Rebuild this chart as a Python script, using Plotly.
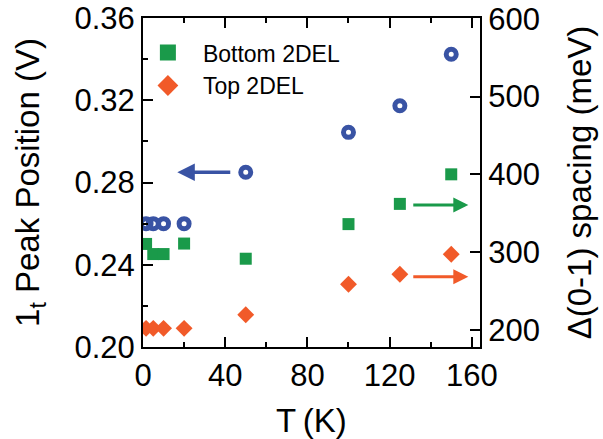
import plotly.graph_objects as go

# Temperature series (K)
temperature = [1.5, 5, 10, 20, 50, 100, 125, 150]
# 1_t peak position (V), left axis
peak_position = [0.260, 0.260, 0.260, 0.260, 0.285, 0.3044, 0.3173, 0.3424]
# Δ(0-1) spacing (meV), right axis
bottom_2del = [310.5, 297.5, 297.5, 311.0, 291.5, 336.0, 362.0, 400.0]
top_2del = [202.0, 202.0, 202.0, 202.0, 219.5, 258.7, 271.6, 297.3]

BLUE = "#3953a4"
GREEN = "#1a9a4a"
ORANGE = "#f15a29"
FONT = "Liberation Sans, Arial, sans-serif"

fig = go.Figure()

fig.add_trace(go.Scatter(
    x=temperature, y=peak_position, mode="markers", showlegend=False,
    marker=dict(symbol="circle-open", size=10, color=BLUE, line=dict(width=5, color=BLUE)),
    yaxis="y",
))
fig.add_trace(go.Scatter(
    x=temperature, y=bottom_2del, mode="markers", showlegend=False,
    marker=dict(symbol="square", size=12, color=GREEN), yaxis="y2",
))
fig.add_trace(go.Scatter(
    x=temperature, y=top_2del, mode="markers", showlegend=False,
    marker=dict(symbol="diamond", size=13, color=ORANGE), yaxis="y2",
))

# legend entries with larger symbols
fig.add_trace(go.Scatter(
    x=[None], y=[None], mode="markers", name="Bottom 2DEL",
    marker=dict(symbol="square", size=16, color=GREEN), yaxis="y2",
))
fig.add_trace(go.Scatter(
    x=[None], y=[None], mode="markers", name="Top 2DEL",
    marker=dict(symbol="diamond", size=16, color=ORANGE), yaxis="y2",
))

axis_common = dict(
    showgrid=False, zeroline=False, showline=True, linecolor="black", linewidth=2,
    ticks="inside", ticklen=10, tickwidth=2, tickcolor="black", automargin=False,
    tickfont=dict(family=FONT, size=31, color="black"),
)

fig.update_layout(
    width=603, height=439,
    margin=dict(l=143, r=123, t=18, b=92),
    paper_bgcolor="white", plot_bgcolor="white",
    font=dict(family=FONT, color="black"),
    xaxis=dict(
        **axis_common, range=[0, 164], dtick=40, tick0=0, mirror="ticks",
        minor=dict(dtick=20, ticks="inside", ticklen=5, tickwidth=2, tickcolor="black"),
        title=dict(text="T\u2009(K)", font=dict(family=FONT, size=33), standoff=17),
    ),
    yaxis=dict(
        **axis_common, range=[0.2, 0.36], dtick=0.04, tick0=0.2, tickformat=".2f",
        minor=dict(dtick=0.02, ticks="inside", ticklen=5, tickwidth=2, tickcolor="black"),
        title=dict(text="1<sub>t</sub> Peak Position (V)", font=dict(family=FONT, size=33), standoff=25),
    ),
    yaxis2=dict(
        **axis_common, range=[178, 601], dtick=100, tick0=200, overlaying="y", side="right",
        title=dict(text="Δ(0-1) spacing (meV)", font=dict(family=FONT, size=33), standoff=29),
    ),
    legend=dict(
        x=-0.030, y=0.96, xanchor="left", yanchor="top",
        font=dict(family=FONT, size=23, color="black"),
        bgcolor="rgba(0,0,0,0)", itemwidth=60, tracegroupgap=0,
    ),
)

# direction arrows pointing to each series' axis
arrow_style = dict(text="", showarrow=True, arrowhead=2, arrowsize=1, standoff=0, startstandoff=0)
fig.add_annotation(x=16.7, y=0.285, ax=43.2, ay=0.285, xref="x", yref="y", axref="x", ayref="y",
                   arrowcolor=BLUE, arrowwidth=3.5, **arrow_style)
fig.add_annotation(x=158.3, y=360.6, ax=130.8, ay=360.6, xref="x", yref="y2", axref="x", ayref="y2",
                   arrowcolor=GREEN, arrowwidth=3, **arrow_style)
fig.add_annotation(x=158.3, y=268.4, ax=130.8, ay=268.4, xref="x", yref="y2", axref="x", ayref="y2",
                   arrowcolor=ORANGE, arrowwidth=3, **arrow_style)

fig.write_html("out.html")
